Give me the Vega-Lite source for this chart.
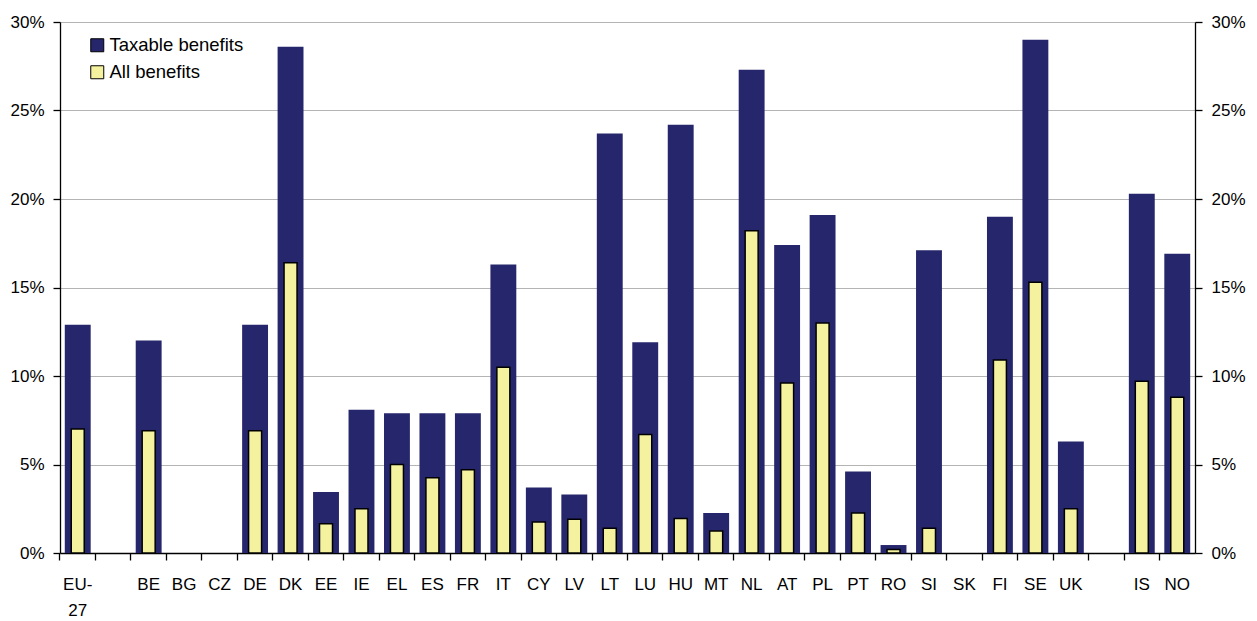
{
  "$schema": "https://vega.github.io/schema/vega-lite/v6.json",
  "width": 1135,
  "height": 531,
  "autosize": {"type": "none"},
  "padding": {"left": 60, "top": 22, "right": 62, "bottom": 68},
  "background": "white",
  "config": {
    "font": "Liberation Sans",
    "view": {"stroke": null},
    "axis": {"labelFont": "Liberation Sans", "labelFontSize": 17, "labelColor": "#000", "domainColor": "#000", "tickColor": "#000", "domainWidth": 1.3, "tickWidth": 1.3}
  },
  "data": {"values": [
    {"country": "EU-27", "taxable": 12.9, "all": 7.0},
    {"country": "gap1", "taxable": null, "all": null},
    {"country": "BE", "taxable": 12.0, "all": 6.9},
    {"country": "BG", "taxable": null, "all": null},
    {"country": "CZ", "taxable": null, "all": null},
    {"country": "DE", "taxable": 12.9, "all": 6.9},
    {"country": "DK", "taxable": 28.6, "all": 16.4},
    {"country": "EE", "taxable": 3.45, "all": 1.65},
    {"country": "IE", "taxable": 8.1, "all": 2.5},
    {"country": "EL", "taxable": 7.9, "all": 5.0},
    {"country": "ES", "taxable": 7.9, "all": 4.25},
    {"country": "FR", "taxable": 7.9, "all": 4.7},
    {"country": "IT", "taxable": 16.3, "all": 10.5},
    {"country": "CY", "taxable": 3.7, "all": 1.75},
    {"country": "LV", "taxable": 3.3, "all": 1.9},
    {"country": "LT", "taxable": 23.7, "all": 1.4},
    {"country": "LU", "taxable": 11.9, "all": 6.7},
    {"country": "HU", "taxable": 24.2, "all": 1.95},
    {"country": "MT", "taxable": 2.26, "all": 1.25},
    {"country": "NL", "taxable": 27.3, "all": 18.2},
    {"country": "AT", "taxable": 17.4, "all": 9.6},
    {"country": "PL", "taxable": 19.1, "all": 13.0},
    {"country": "PT", "taxable": 4.6, "all": 2.26},
    {"country": "RO", "taxable": 0.45, "all": 0.2},
    {"country": "SI", "taxable": 17.1, "all": 1.4},
    {"country": "SK", "taxable": null, "all": null},
    {"country": "FI", "taxable": 19.0, "all": 10.9},
    {"country": "SE", "taxable": 29.0, "all": 15.3},
    {"country": "UK", "taxable": 6.3, "all": 2.5},
    {"country": "gap2", "taxable": null, "all": null},
    {"country": "IS", "taxable": 20.3, "all": 9.7},
    {"country": "NO", "taxable": 16.9, "all": 8.8}
  ]},
  "layer": [
    {
      "mark": {"type": "bar", "color": "#26266C"},
      "encoding": {
        "x": {
          "field": "country", "type": "nominal", "sort": null,
          "scale": {
            "domain": ["EU-27", "gap1", "BE", "BG", "CZ", "DE", "DK", "EE", "IE", "EL", "ES", "FR", "IT", "CY", "LV", "LT", "LU", "HU", "MT", "NL", "AT", "PL", "PT", "RO", "SI", "SK", "FI", "SE", "UK", "gap2", "IS", "NO"],
            "paddingInner": 0.27, "paddingOuter": 0.135
          },
          "axis": {
            "title": null, "labelAngle": 0, "tickSize": 7,
            "bandPosition": -0.185,
            "labelPadding": 16, "labelLineHeight": 26,
            "labelExpr": "datum.value == 'EU-27' ? ['EU-', '27'] : (indexof(datum.value, 'gap') == 0 ? '' : datum.value)"
          }
        },
        "y": {
          "field": "taxable", "type": "quantitative",
          "scale": {"domain": [0, 30], "nice": false},
          "axis": {"title": null, "orient": "left", "values": [0, 5, 10, 15, 20, 25, 30], "labelExpr": "datum.value + '%'", "grid": true, "gridColor": "#b4b4b4", "gridWidth": 1, "tickSize": 7, "labelPadding": 9}
        },
        "color": {
          "datum": "Taxable benefits",
          "scale": {"domain": ["Taxable benefits", "All benefits"], "range": ["#26266C", "#F4F29E"]},
          "legend": {
            "title": null, "orient": "none", "legendX": 28, "legendY": 14,
            "symbolType": "square", "symbolSize": 169, "symbolStrokeColor": "#000", "symbolStrokeWidth": 1,
            "labelFontSize": 18.5, "labelFont": "Liberation Sans", "labelColor": "#000", "rowPadding": 8, "labelOffset": 3, "padding": 0
          }
        }
      }
    },
    {
      "mark": {"type": "bar", "width": 13, "stroke": "#000", "strokeWidth": 1.5},
      "encoding": {
        "x": {"field": "country", "type": "nominal", "sort": null},
        "y": {
          "field": "all", "type": "quantitative",
          "axis": {"title": null, "orient": "right", "values": [0, 5, 10, 15, 20, 25, 30], "labelExpr": "datum.value + '%'", "grid": false, "tickSize": 7, "labelPadding": 9}
        },
        "color": {"datum": "All benefits"}
      }
    }
  ],
  "resolve": {"axis": {"y": "independent"}}
}
